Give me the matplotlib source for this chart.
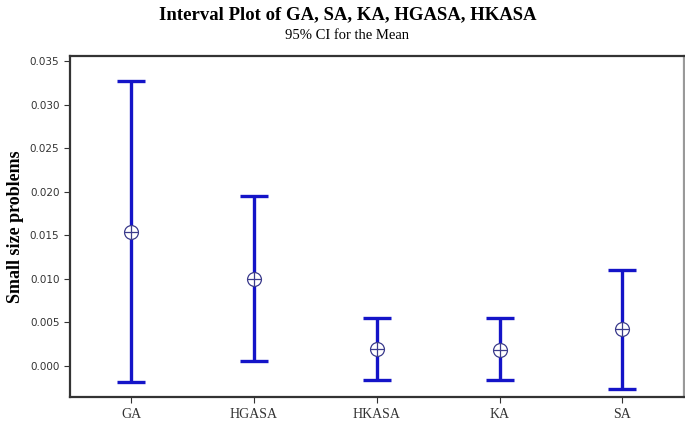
import numpy as np
import matplotlib
matplotlib.use('Agg')
import matplotlib.pyplot as plt

groups = ['GA', 'HGASA', 'HKASA', 'KA', 'SA']
means = [0.01540, 0.01000, 0.00195, 0.00185, 0.00420]
lower = [-0.00190, 0.00050, -0.00160, -0.00170, -0.00270]
upper = [0.03280, 0.01950, 0.00545, 0.00545, 0.01100]
yticks = [0.000, 0.005, 0.010, 0.015, 0.020, 0.025, 0.030, 0.035]

fig = plt.figure(figsize=(6.85, 4.32), dpi=100)
ax = fig.add_axes([0.102, 0.081, 0.896, 0.789])

x = np.arange(len(groups))
m = np.array(means)
err = [m - np.array(lower), np.array(upper) - m]
ax.errorbar(x, m, yerr=err, fmt='none', ecolor='#1414c8', elinewidth=2.4,
            capsize=10, capthick=2.4, zorder=2)
ax.plot(x, m, 'o', ms=10, mfc='white', mec='#3c3c8c', mew=0.9, zorder=3)
ax.plot(x, m, '+', ms=10, mec='#3c3c8c', mew=0.9, zorder=4)

ax.set_xlim(-0.5, 4.5)
ax.set_ylim(-0.0036, 0.0356)
ax.set_xticks(x)
ax.set_xticklabels(groups, fontsize=10, family='Liberation Serif')
ax.set_yticks(yticks)
ax.set_yticklabels(['%.3f' % v for v in yticks], fontsize=7.5, family='DejaVu Sans')
ax.tick_params(direction='out', length=4, width=0.8, colors='#333333')
ax.tick_params(axis='x', pad=4)
for s in ['left', 'bottom', 'top']:
    ax.spines[s].set_linewidth(1.6)
    ax.spines[s].set_color('#333333')
ax.spines['right'].set_linewidth(1.6)
ax.spines['right'].set_color('#999999')

ax.set_ylabel('Small size problems', fontsize=13, fontweight='bold',
              family='Liberation Serif', labelpad=4)
fig.text(0.507, 0.965, 'Interval Plot of GA, SA, KA, HGASA, HKASA', ha='center',
         va='center', fontsize=13.5, fontweight='bold', family='Liberation Serif')
fig.text(0.507, 0.918, '95% CI for the Mean', ha='center', va='center',
         fontsize=10.5, family='Liberation Serif')

plt.savefig('out.png')
